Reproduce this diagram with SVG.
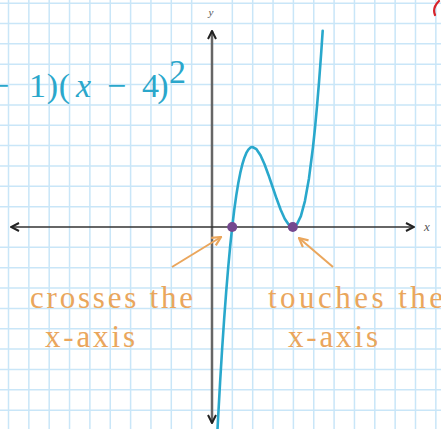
<svg xmlns="http://www.w3.org/2000/svg" width="441" height="429" viewBox="0 0 441 429">
<style>
.grid{stroke:#c9e6f8;stroke-width:1.5;fill:none}
.eq{font-family:"Liberation Serif",serif;font-size:34px;fill:#2ba7cb;text-anchor:middle}
.lbl{font-family:"Liberation Serif",serif;font-size:31px;fill:#eaa65c}
.ax{font-family:"Liberation Serif",serif;font-style:italic;fill:#555}
.callout{stroke:#eaa65c;stroke-width:2;fill:none;marker-end:url(#oarrow)}
</style>
<defs>
<marker id="oarrow" viewBox="0 0 10 10" refX="9" refY="5" markerWidth="11" markerHeight="11" markerUnits="userSpaceOnUse" orient="auto">
<path d="M1,1 L9,5 L1,9" fill="none" stroke="#eaa65c" stroke-width="2"/>
</marker>
<marker id="karrow" viewBox="0 0 10 10" refX="9" refY="5" markerWidth="10" markerHeight="10" markerUnits="userSpaceOnUse" orient="auto">
<path d="M1,1 L9,5 L1,9" fill="none" stroke="#222" stroke-width="2"/>
</marker>
</defs>
<rect width="441" height="429" fill="#ffffff"/>
<g id="grid">
<path class="grid" d="M8.5,0V429M28.85,0V429M49.2,0V429M69.55,0V429M89.9,0V429M110.25,0V429M130.6,0V429M150.95,0V429M171.3,0V429M191.65,0V429M232.35,0V429M252.7,0V429M273.05,0V429M293.4,0V429M313.75,0V429M334.1,0V429M354.45,0V429M374.8,0V429M395.15,0V429M415.5,0V429M435.85,0V429"/>
<path class="grid" d="M0,3.15H441M0,23.5H441M0,43.85H441M0,64.2H441M0,84.55H441M0,104.9H441M0,125.25H441M0,145.6H441M0,165.95H441M0,186.3H441M0,206.65H441M0,247.35H441M0,267.7H441M0,288.05H441M0,308.4H441M0,328.75H441M0,349.1H441M0,369.45H441M0,389.8H441M0,410.15H441"/>
</g>
<g id="axes">
<line x1="212" y1="227" x2="212" y2="31" stroke="#666" stroke-width="2.5" marker-end="url(#karrow)"/>
<line x1="212" y1="227" x2="212" y2="423" stroke="#666" stroke-width="2.5" marker-end="url(#karrow)"/>
<line x1="212" y1="227" x2="414" y2="227" stroke="#333" stroke-width="1.6" marker-end="url(#karrow)"/>
<line x1="212" y1="227" x2="11" y2="227" stroke="#333" stroke-width="1.6" marker-end="url(#karrow)"/>
<text class="ax" x="211" y="16" font-size="11" text-anchor="middle">y</text>
<text class="ax" x="427" y="231" font-size="13" text-anchor="middle">x</text>
</g>
<g id="equation">
<text class="eq" x="-0.5" y="97">−</text>
<text class="eq" x="37.5" y="97">1</text>
<text class="eq" x="52.5" y="97">)</text>
<text class="eq" x="64.5" y="97">(</text>
<text class="eq" x="83.5" y="97" font-style="italic">x</text>
<text class="eq" x="116.5" y="97">−</text>
<text class="eq" x="150.5" y="97">4</text>
<text class="eq" x="163" y="97">)</text>
<text class="eq" x="177.5" y="83" font-size="20">2</text>
</g>
<g id="curve">
<path fill="none" stroke="#29a8cc" stroke-width="2.6" stroke-linejoin="round" stroke-linecap="round" d="M217.05,437.9 L218.06,418.7 L220.08,382.5 L222.1,349.5 L224.12,319.5 L226.14,292.3 L228.16,268 L230.18,246.2 L232.2,227 L234.22,210.2 L236.24,195.6 L238.26,183.3 L240.28,172.9 L242.3,164.5 L244.32,157.9 L246.34,152.9 L248.36,149.6 L250.38,147.6 L252.4,147 L256.44,149.2 L260.48,155.3 L264.52,164.3 L268.56,175.2 L272.6,187 L276.64,198.8 L280.68,209.7 L284.72,218.7 L288.76,224.8 L292.8,227 L296.84,224.4 L300.88,216.1 L304.92,201.1 L308.96,178.4 L313,147 L315.02,127.8 L317.04,106 L319.06,81.7 L321.08,54.5 L322.7,30.7"/>
</g>
<g id="root1"><circle cx="232.2" cy="227" r="5" fill="#74488f"/></g>
<g id="root4"><circle cx="292.8" cy="227" r="5" fill="#74488f"/></g>
<g id="connectors">
<line class="callout" x1="172" y1="267" x2="221" y2="237"/>
<line class="callout" x1="333" y1="267" x2="299" y2="238"/>
</g>
<g id="label-crosses">
<text class="lbl" x="30" y="308" textLength="163">crosses the</text>
<text class="lbl" x="45" y="347" textLength="90">x-axis</text>
</g>
<g id="label-touches">
<text class="lbl" x="268" y="308" textLength="175">touches the</text>
<text class="lbl" x="288" y="347" textLength="90">x-axis</text>
</g>
<path d="M439,1 Q432,8 435,15" fill="none" stroke="#d8232a" stroke-width="2.2" stroke-linecap="round"/>
</svg>
